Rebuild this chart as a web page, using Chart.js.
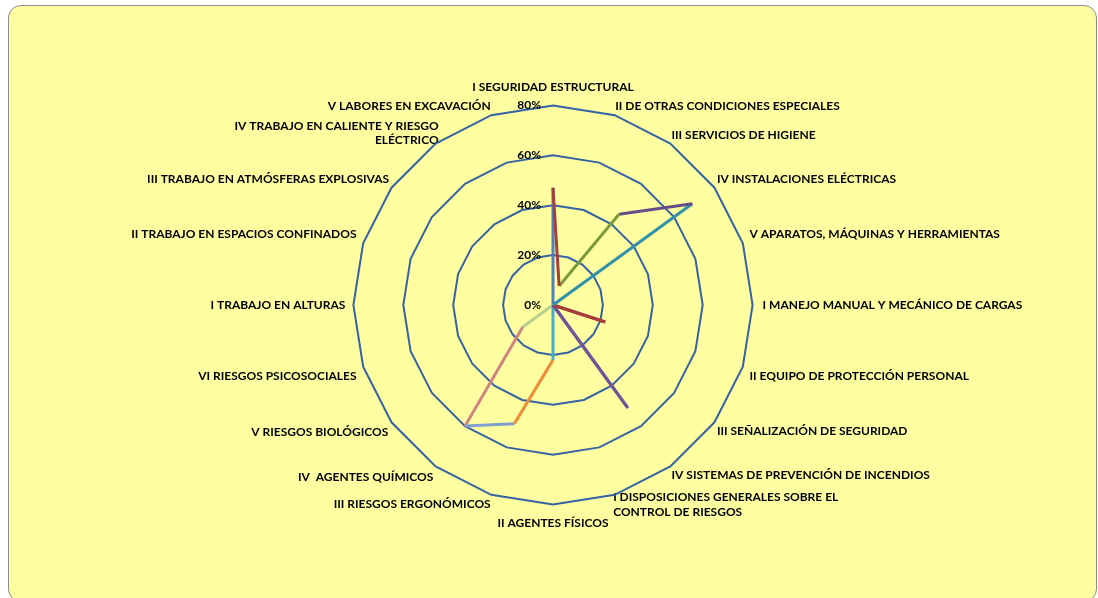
<!DOCTYPE html>
<html>
<head>
<meta charset="utf-8">
<script src="https://cdn.jsdelivr.net/npm/chart.js@4/dist/chart.umd.min.js"></script>
<style>
  html, body { margin: 0; padding: 0; background: #ffffff; }
  #frame {
    position: absolute; left: 8px; top: 5px; width: 1087px; height: 595px;
    border: 1.5px solid #8c8c8c; border-radius: 13px; background: #ffffa1;
  }
  #wrap { position: absolute; left: 0; top: 0; width: 1098px; height: 598px; }
</style>
</head>
<body>
<div id="frame"></div>
<div id="wrap"><canvas id="radarChart"></canvas></div>
<script>
// categories, clockwise from the top
const categories = [
    'I SEGURIDAD ESTRUCTURAL',
    'II DE OTRAS CONDICIONES ESPECIALES',
    'III SERVICIOS DE HIGIENE',
    'IV INSTALACIONES ELÉCTRICAS',
    'V APARATOS, MÁQUINAS Y HERRAMIENTAS',
    'I MANEJO MANUAL Y MECÁNICO DE CARGAS',
    'II EQUIPO DE PROTECCIÓN PERSONAL',
    'III SEÑALIZACIÓN DE SEGURIDAD',
    'IV SISTEMAS DE PREVENCIÓN DE INCENDIOS',
    ['I DISPOSICIONES GENERALES SOBRE EL', 'CONTROL DE RIESGOS'],
    'II AGENTES FÍSICOS',
    'III RIESGOS ERGONÓMICOS',
    'IV  AGENTES QUÍMICOS',
    'V RIESGOS BIOLÓGICOS',
    'VI RIESGOS PSICOSOCIALES',
    'I TRABAJO EN ALTURAS',
    'II TRABAJO EN ESPACIOS CONFINADOS',
    'III TRABAJO EN ATMÓSFERAS EXPLOSIVAS',
    ['IV TRABAJO EN CALIENTE Y RIESGO', 'ELÉCTRICO'],
    'V LABORES EN EXCAVACIÓN'
];

// percent values
const values = [47, 8, 45, 69, 0, 0, 22, 0, 51, 0, 22, 50, 60, 15, 0, 0, 0, 0, 0, 0];

const tickValues = [0, 20, 40, 60, 80];

// colour of the segment that starts at each point (last one closes the loop)
const segmentColors = [
    '#a63f3c', '#7a9a3c', '#644d88', '#3190aa', '#f79646',
    '#a63f3c', '#a63f3c', '#6f5597', '#6f5597', '#42b0c9',
    '#f28b3a', '#7f9fd0', '#cf8581', '#b6cf8c', '#b6cf8c',
    '#b6cf8c', '#b6cf8c', '#b6cf8c', '#b6cf8c', '#4f7fbf'
];

// label distance from the outer ring, per category
const labelPadding = [11, 2, 2, 3, 7, 10, 7, 3, 2, -5, 11, 2, 4, 4, 7, 8, 7, 3, -5, 2];

const gridColor = '#3663a4';
const labelFont = { family: 'Lato', weight: 'bold', size: 12 };

// one dataset per segment so each can have its own colour
const segmentDatasets = values.map(function(v, i) {
    const j = (i + 1) % values.length;
    return {
        data: values.map(function(val, k) { return (k === i || k === j) ? val : null; }),
        borderColor: segmentColors[i],
        borderWidth: 3,
        borderJoinStyle: 'round',
        pointRadius: 0,
        pointHoverRadius: 0,
        fill: false,
        spanGaps: false,
        tension: 0
    };
});

// tick labels drawn right-aligned just left of the vertical axis
const tickLabelPlugin = {
    id: 'tickLabelPlugin',
    afterDraw(chart) {
        const scale = chart.scales.r;
        const ctx = chart.ctx;
        ctx.save();
        ctx.font = 'bold 12px Lato';
        ctx.fillStyle = '#000000';
        ctx.textAlign = 'right';
        ctx.textBaseline = 'middle';
        scale.ticks.forEach(function(tick) {
            const d = scale.getDistanceFromCenterForValue(tick.value);
            ctx.fillText(tick.value + '%', scale.xCenter - 12, scale.yCenter - d);
        });
        ctx.restore();
    }
};

document.addEventListener('DOMContentLoaded', function() {
    const radarCtx = document.getElementById('radarChart');
    new Chart(radarCtx, {
        type: 'radar',
        data: {
            labels: categories,
            datasets: segmentDatasets
        },
        options: {
            responsive: true,
            maintainAspectRatio: false,
            animation: false,
            layout: {
                padding: { top: 80, bottom: 67, left: 40, right: 32 }
            },
            scales: {
                r: {
                    min: 0,
                    max: 80,
                    afterBuildTicks: function(axis) {
                        axis.ticks = tickValues.map(function(v) { return { value: v }; });
                    },
                    ticks: { display: false },
                    grid: { circular: false, color: gridColor, lineWidth: 2 },
                    angleLines: { display: false },
                    pointLabels: {
                        color: '#000000',
                        font: labelFont,
                        padding: function(ctx) {
                            return labelPadding[ctx.index];
                        }
                    }
                }
            },
            plugins: {
                legend: { display: false },
                tooltip: { enabled: false }
            }
        },
        plugins: [tickLabelPlugin]
    });
});
</script>
</body>
</html>
